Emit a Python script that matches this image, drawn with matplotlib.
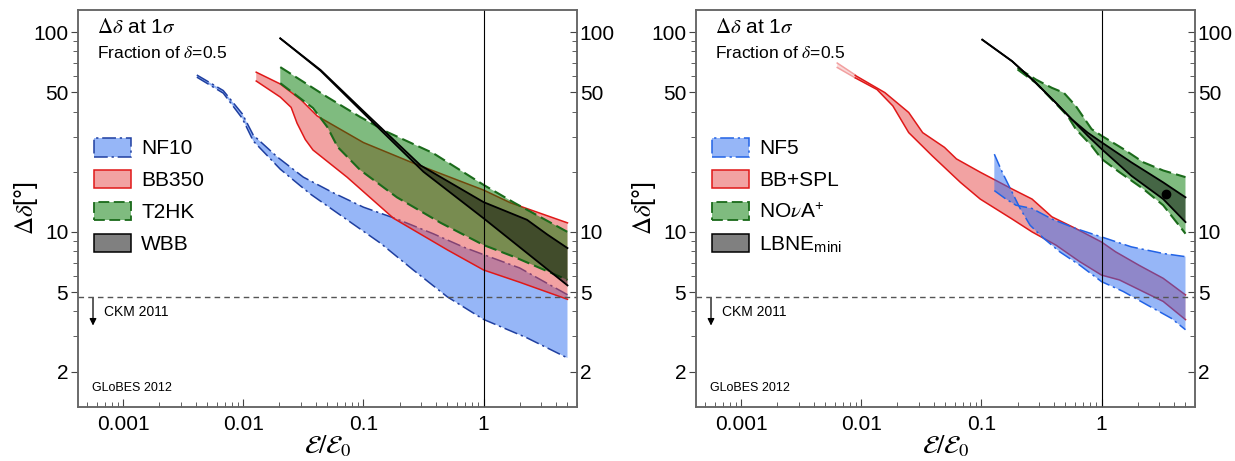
import matplotlib
matplotlib.use('Agg')
import matplotlib.pyplot as plt
from matplotlib.patches import Patch
from matplotlib.ticker import FixedLocator, FixedFormatter, NullFormatter

plt.rcParams['font.family'] = ['Liberation Sans', 'DejaVu Sans']
plt.rcParams['mathtext.fontset'] = 'stix'

# ---------------- data: left panel ----------------
nf10_up_x = [0.0041, 0.0068, 0.0098, 0.0121, 0.0192, 0.0316, 0.056, 0.1, 0.19, 0.38, 0.68, 1.0, 2.0, 5.0]
nf10_up_y = [61, 51, 39, 30.5, 23.7, 18.8, 15.7, 13.3, 11.6, 9.8, 8.4, 7.7, 6.6, 4.85]
nf10_lo_x = [0.0041, 0.0068, 0.0098, 0.0121, 0.0203, 0.036, 0.073, 0.138, 0.26, 0.5, 1.0, 2.3, 5.0]
nf10_lo_y = [59.5, 49.5, 37, 28.5, 20.6, 15.5, 11.5, 8.8, 6.45, 4.73, 3.65, 2.95, 2.34]

bb350_up_x = [0.0128, 0.0203, 0.03, 0.0413, 0.1, 0.26, 1.0, 1.67, 5.0]
bb350_up_y = [63, 55, 46, 38, 28, 22.1, 16.2, 14.0, 11.1]
bb350_lo_x = [0.0128, 0.0203, 0.025, 0.028, 0.0328, 0.038, 0.073, 0.178, 0.5, 1.0, 2.0, 5.0]
bb350_lo_y = [56.9, 47.3, 42, 35, 29, 25.7, 18.8, 11.7, 8.13, 6.45, 5.6, 4.6]

t2hk_up_x = [0.0203, 0.05, 0.094, 0.158, 0.38, 1.0, 1.8, 5.0]
t2hk_up_y = [66.8, 47.3, 37.6, 31.6, 24.8, 17.2, 14.0, 10.0]
t2hk_lo_x = [0.0203, 0.038, 0.05, 0.061, 0.094, 0.19, 0.44, 1.0, 1.8, 5.0]
t2hk_lo_y = [55.5, 41.7, 33.5, 26.6, 20.4, 14.9, 11.1, 8.6, 7.5, 5.75]

wbb_up_x = [0.0203, 0.044, 0.108, 0.3, 1.0, 2.3, 3.4, 5.0]
wbb_up_y = [93, 64.6, 38.5, 21.5, 14.1, 11.5, 9.7, 8.3]
wbb_lo_x = [0.0203, 0.044, 0.138, 0.316, 1.0, 5.0]
wbb_lo_y = [93, 64, 32.5, 20, 11.7, 5.4]

# ---------------- data: right panel ----------------
bbspl_faint_x = [0.0063, 0.0089]
bbspl_faint_up = [70, 61]
bbspl_faint_lo = [66.5, 59]

bbspl_up_x = [0.0089, 0.0157, 0.0248, 0.0324, 0.0492, 0.0619, 0.0977, 0.18, 0.264, 0.386, 0.61, 1.0, 1.31, 2.06, 3.26, 5.0]
bbspl_up_y = [60.7, 49.8, 39.6, 31.4, 26.5, 23.2, 19.9, 16.4, 14.6, 11.9, 10.4, 8.9, 7.95, 6.8, 5.86, 4.84]
bbspl_lo_x = [0.0089, 0.0135, 0.0183, 0.0248, 0.039, 0.0668, 0.0977, 0.18, 0.264, 0.416, 0.658, 1.0, 1.41, 2.23, 3.26, 5.0]
bbspl_lo_y = [59, 51.6, 42.7, 31.4, 24.0, 17.7, 14.6, 11.6, 10.0, 8.6, 7.1, 6.08, 5.75, 5.02, 4.49, 3.64]

nf5_a_x = [0.128, 0.149, 0.18, 0.21, 0.254, 0.331, 0.449, 0.658, 1.0, 1.52, 2.4, 3.8, 5.0]
nf5_a_y = [24.5, 19.9, 15.8, 13.1, 10.8, 9.27, 7.95, 6.82, 5.64, 5.03, 4.31, 3.7, 3.24]
nf5_b_x = [0.128, 0.16, 0.194, 0.264, 0.386, 0.61, 1.0, 1.77, 3.26, 5.0]
nf5_b_y = [16.1, 14.6, 13.6, 13.1, 11.6, 10.4, 9.44, 8.42, 7.8, 7.52]

nova_up_x = [0.2, 0.284, 0.386, 0.485, 0.61, 0.826, 1.0, 1.52, 2.23, 3.26, 5.0]
nova_up_y = [66.2, 57.9, 52.6, 49.7, 42.7, 32.7, 30.3, 26.0, 22.3, 20.3, 18.8]
nova_lo_x = [0.2, 0.284, 0.386, 0.523, 0.61, 0.826, 1.0, 1.41, 2.23, 3.26, 5.0]
nova_lo_y = [65, 55.7, 46.0, 38.0, 32.7, 27.0, 23.2, 19.9, 16.4, 13.6, 9.8]

lbne_up_x = [0.1016, 0.18, 0.284, 0.416, 0.565, 0.766, 1.0, 1.77, 3.26, 5.0]
lbne_up_y = [91.6, 71.5, 55.7, 44.3, 36.6, 31.4, 28.1, 22.3, 17.7, 14.9]
lbne_lo_x = [0.1016, 0.18, 0.284, 0.416, 0.565, 0.766, 1.0, 1.77, 3.26, 5.0]
lbne_lo_y = [91.6, 71.5, 55.7, 44.3, 36.6, 30.3, 26.0, 19.1, 14.6, 11.2]

lbne_point_x = [3.47]
lbne_point_y = [15.4]

ckm_value = 4.7
ref_x = 1.0

left_labels = ['NF10', 'BB350', 'T2HK', 'WBB']
right_labels = ['NF5', 'BB+SPL', r'NO$\nu$A$^{\mathregular{+}}$', r'LBNE$_{\mathregular{mini}}$']

x_major = [0.001, 0.01, 0.1, 1]
x_major_labels = ['0.001', '0.01', '0.1', '1']
y_major = [2, 5, 10, 50, 100]
y_major_labels = ['2', '5', '10', '50', '100']

XLIM = (4.2e-4, 6.0)
YLIM = (1.33, 129)

# ---------------- styles ----------------
BLUE_FC = (0.18, 0.43, 0.94, 0.5)
BLUE_EC_L = '#1f3fa0'
BLUE_EC_R = '#2263e6'
RED_FC = (0.90, 0.28, 0.28, 0.5)
RED_EC = '#e01818'
GREEN_FC = (0.0, 0.47, 0.0, 0.5)
GREEN_EC = '#1a6a1a'
BLACK_FC = (0.0, 0.0, 0.0, 0.45)
DASHDOT = (0, (9, 2.5, 1.5, 2.5))
DASHED = (0, (6, 2.5))

fig = plt.figure(figsize=(12.35, 4.61), dpi=100)
axL = fig.add_axes([78 / 1235, 54 / 461, 499 / 1235, 397 / 461])
axR = fig.add_axes([696 / 1235, 54 / 461, 499 / 1235, 397 / 461])


def band(ax, xu, yu, xl, yl, fc, ec, ls, lw, z):
    xs = list(xu) + list(xl)[::-1]
    ys = list(yu) + list(yl)[::-1]
    ax.fill(xs, ys, facecolor=fc, edgecolor='none', zorder=z)
    ax.plot(xu, yu, color=ec, ls=ls, lw=lw, zorder=z + 0.1)
    ax.plot(xl, yl, color=ec, ls=ls, lw=lw, zorder=z + 0.1)


x_minor = [k * 10.0 ** e for e in range(-4, 1) for k in range(2, 10)]
y_minor = [k * 10.0 ** e for e in range(0, 2) for k in range(1, 10)]
y_minor = [v for v in y_minor if v not in y_major]


def setup(ax):
    ax.set_xscale('log')
    ax.set_yscale('log')
    ax.set_xlim(*XLIM)
    ax.set_ylim(*YLIM)
    for s in ax.spines.values():
        s.set_color('#666666')
        s.set_linewidth(1.1)
    ax.xaxis.set_major_locator(FixedLocator(x_major))
    ax.xaxis.set_major_formatter(FixedFormatter(x_major_labels))
    ax.xaxis.set_minor_locator(FixedLocator(x_minor))
    ax.xaxis.set_minor_formatter(NullFormatter())
    ax.yaxis.set_major_locator(FixedLocator(y_major))
    ax.yaxis.set_major_formatter(FixedFormatter(y_major_labels))
    ax.yaxis.set_minor_locator(FixedLocator(y_minor))
    ax.yaxis.set_minor_formatter(NullFormatter())
    ax.tick_params(axis='x', which='both', direction='in', top=False, labelsize=15, color='#444444', pad=6)
    ax.tick_params(axis='x', which='major', length=6)
    ax.tick_params(axis='x', which='minor', length=3.5)
    ax.tick_params(axis='y', which='both', direction='out', right=False, labelsize=15, color='#444444', pad=2)
    ax.tick_params(axis='y', which='major', length=5)
    ax.tick_params(axis='y', which='minor', length=3.5)
    tw = ax.twinx()
    tw.set_yscale('log')
    tw.set_ylim(*YLIM)
    tw.yaxis.set_major_locator(FixedLocator(y_major))
    tw.yaxis.set_major_formatter(FixedFormatter(y_major_labels))
    tw.yaxis.set_minor_locator(FixedLocator(y_minor))
    tw.yaxis.set_minor_formatter(NullFormatter())
    tw.tick_params(axis='y', which='both', direction='in', labelsize=15, color='#444444', pad=2)
    tw.tick_params(axis='y', which='major', length=5)
    tw.tick_params(axis='y', which='minor', length=3.5)
    for s in tw.spines.values():
        s.set_color('#666666')
        s.set_linewidth(1.1)
    ax.axvline(ref_x, color='k', lw=0.8, zorder=10)
    ax.axhline(ckm_value, color='#555555', ls=(0, (4, 3)), lw=1.0, zorder=10)
    ax.annotate('', xy=(5.6e-4, 3.4), xytext=(5.6e-4, ckm_value),
                arrowprops=dict(arrowstyle='-|>', color='k', lw=0.9, mutation_scale=10, shrinkA=0, shrinkB=0))
    ax.text(6.9e-4, 3.98, 'CKM 2011', fontsize=10, va='center', ha='left')
    ax.text(0.028, 0.048, 'GLoBES 2012', fontsize=9, transform=ax.transAxes, va='center')
    ax.text(0.038, 0.955, r'$\Delta\delta$ at 1$\sigma$', fontsize=15, transform=ax.transAxes, va='center')
    ax.text(0.038, 0.892, r'Fraction of $\delta$=0.5', fontsize=12.5, transform=ax.transAxes, va='center')
    ax.set_ylabel(r'$\Delta\delta$[°]', fontsize=18, labelpad=-5)
    ax.set_xlabel(r'$\mathcal{E}/\mathcal{E}_0$', fontsize=19, labelpad=-1)


setup(axL)
setup(axR)

# left panel
band(axL, nf10_up_x, nf10_up_y, nf10_lo_x, nf10_lo_y, BLUE_FC, BLUE_EC_L, DASHDOT, 1.1, 2)
band(axL, bb350_up_x, bb350_up_y, bb350_lo_x, bb350_lo_y, RED_FC, RED_EC, '-', 1.1, 3)
band(axL, t2hk_up_x, t2hk_up_y, t2hk_lo_x, t2hk_lo_y, GREEN_FC, GREEN_EC, DASHED, 1.5, 4)
band(axL, wbb_up_x, wbb_up_y, wbb_lo_x, wbb_lo_y, BLACK_FC, 'k', '-', 1.3, 5)

# right panel
axR.fill(list(bbspl_faint_x) + list(bbspl_faint_x)[::-1], list(bbspl_faint_up) + list(bbspl_faint_lo)[::-1],
         facecolor=(0.90, 0.28, 0.28, 0.2), edgecolor='none', zorder=2)
axR.plot(bbspl_faint_x, bbspl_faint_up, color='#f2a0a0', lw=1.1, zorder=2.1)
axR.plot(bbspl_faint_x, bbspl_faint_lo, color='#f2a0a0', lw=1.1, zorder=2.1)
band(axR, bbspl_up_x, bbspl_up_y, bbspl_lo_x, bbspl_lo_y, RED_FC, RED_EC, '-', 1.1, 2)
band(axR, nf5_a_x, nf5_a_y, nf5_b_x, nf5_b_y, BLUE_FC, BLUE_EC_R, DASHDOT, 1.1, 3)
band(axR, nova_up_x, nova_up_y, nova_lo_x, nova_lo_y, GREEN_FC, GREEN_EC, DASHED, 1.5, 4)
band(axR, lbne_up_x, lbne_up_y, lbne_lo_x, lbne_lo_y, BLACK_FC, 'k', '-', 1.3, 5)
axR.plot(lbne_point_x, lbne_point_y, 'o', color='k', ms=6, zorder=6)


def legend(ax, labels, blue_ec):
    handles = [
        Patch(facecolor=BLUE_FC, edgecolor=blue_ec, linestyle=DASHDOT, lw=1.1),
        Patch(facecolor=RED_FC, edgecolor=RED_EC, lw=1.1),
        Patch(facecolor=GREEN_FC, edgecolor=GREEN_EC, linestyle=DASHED, lw=1.3),
        Patch(facecolor=(0.5, 0.5, 0.5), edgecolor='k', lw=1.1),
    ]
    ax.legend(handles, labels, loc='upper left', bbox_to_anchor=(-0.005, 0.725), frameon=False,
              fontsize=15, handlelength=1.75, handleheight=1.0, labelspacing=0.55, handletextpad=0.5)


legend(axL, left_labels, BLUE_EC_L)
legend(axR, right_labels, BLUE_EC_R)

fig.savefig('out.png', dpi=100)
